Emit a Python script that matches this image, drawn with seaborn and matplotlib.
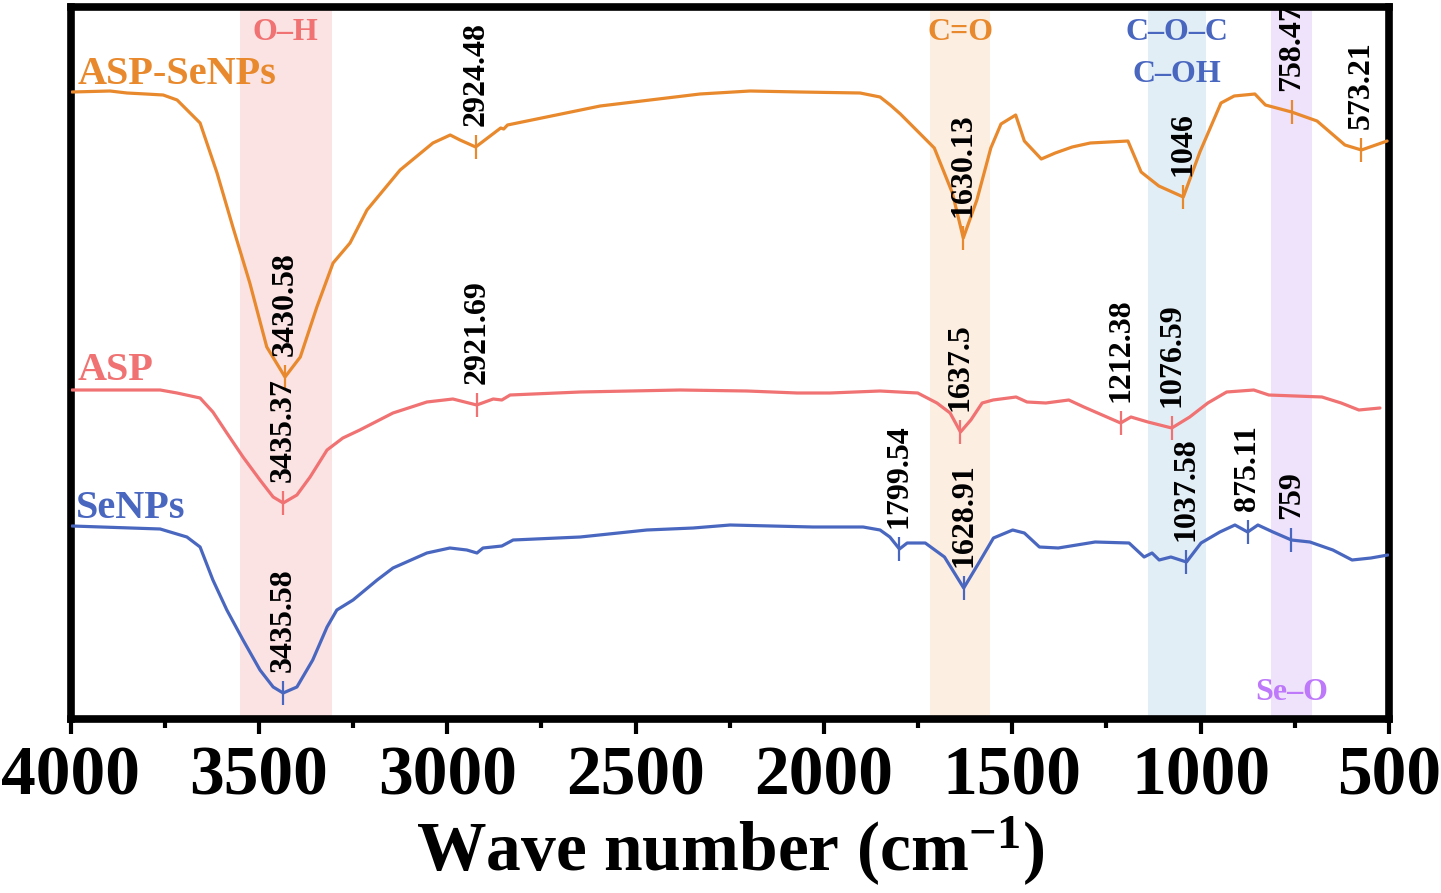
import numpy as np
import pandas as pd
import seaborn as sns
import matplotlib.pyplot as plt

sns.set_theme(style="ticks")
plt.rcParams['font.family'] = ['Liberation Serif', 'DejaVu Serif']
plt.rcParams['font.weight'] = 'bold'
plt.rcParams['text.color'] = 'black'
plt.rcParams['axes.labelcolor'] = 'black'
plt.rcParams['xtick.color'] = 'black'
plt.rcParams['mathtext.fontset'] = 'custom'
plt.rcParams['mathtext.rm'] = 'Liberation Serif:bold'
plt.rcParams['mathtext.it'] = 'Liberation Serif:bold'

# spectra (wavenumber, offset transmittance)
asp_senps_wn = [3996, 3895, 3850, 3800, 3754, 3717, 3656, 3611, 3569, 3524, 3479, 3430.58, 3390, 3346,
                3303, 3258, 3213, 3125, 3038, 2992, 2966, 2924.48, 2858, 2850, 2840, 2594, 2329, 2196,
                2063, 1904, 1851, 1824, 1797, 1707, 1659, 1630.13, 1594, 1557, 1530, 1491, 1468, 1423,
                1386, 1341, 1293, 1193, 1158, 1111, 1046, 1002, 946, 911, 856, 828, 758.47, 691, 617,
                573.21, 505]
asp_senps_t = [62.7, 62.8, 62.6, 62.5, 62.4, 61.9, 59.6, 54.6, 49.2, 43.6, 37.2, 34.2, 36.2, 41.2,
               45.6, 47.6, 50.9, 54.9, 57.6, 58.4, 57.9, 57.2, 59.1, 59.0, 59.4, 61.3, 62.5, 62.8,
               62.7, 62.6, 62.2, 61.4, 60.5, 57.1, 52.6, 48.1, 51.9, 57.1, 59.5, 60.4, 57.8, 56.0,
               56.6, 57.2, 57.6, 57.8, 54.7, 53.3, 52.2, 56.7, 61.6, 62.3, 62.5, 61.4, 60.7, 59.8, 57.4,
               56.9, 57.8]

asp_wn = [3996, 3842, 3762, 3717, 3656, 3622, 3585, 3542, 3497, 3462, 3435.37, 3399, 3364, 3319,
          3277, 3232, 3144, 3054, 2985, 2921.69, 2878, 2855, 2833, 2647, 2382, 2204, 2071, 1984,
          1851, 1751, 1700, 1665, 1637.5, 1610, 1580, 1551, 1490, 1461, 1411, 1350, 1310, 1249,
          1212.38, 1185, 1140, 1076.59, 1029, 981, 931, 859, 819, 678, 627, 580, 524]
asp_t = [32.9, 32.9, 32.9, 32.6, 32.1, 30.7, 28.6, 26.2, 23.9, 22.2, 21.6, 22.4, 24.2, 26.9,
         28.1, 28.9, 30.6, 31.7, 32.0, 31.4, 32.0, 31.9, 32.4, 32.7, 32.9, 32.8, 32.6, 32.6,
         32.8, 32.6, 31.6, 30.6, 28.7, 29.9, 31.6, 31.9, 32.2, 31.7, 31.6, 31.9, 31.2, 30.2,
         29.6, 30.2, 29.7, 29.1, 30.2, 31.6, 32.7, 32.9, 32.4, 32.2, 31.6, 30.9, 31.1]

senps_wn = [3996, 3762, 3691, 3656, 3622, 3585, 3542, 3497, 3462, 3435.58, 3399, 3357, 3319, 3293,
            3250, 3186, 3144, 3054, 2993, 2948, 2921, 2905, 2855, 2825, 2647, 2470, 2347, 2249,
            2029, 1896, 1851, 1825, 1799.54, 1779, 1731, 1680, 1628.91, 1589, 1550, 1499, 1468,
            1428, 1378, 1280, 1190, 1150, 1129, 1110, 1079, 1037.58, 999, 949, 909, 875.11, 848,
            808, 759, 710, 649, 598, 548, 503]
senps_t = [19.3, 19.0, 18.2, 17.2, 13.9, 10.9, 7.9, 4.9, 3.2, 2.6, 3.2, 5.9, 9.2, 10.9,
           11.9, 13.9, 15.1, 16.6, 17.1, 16.9, 16.6, 17.1, 17.3, 17.9, 18.2, 18.9, 19.1, 19.4,
           19.2, 19.2, 18.9, 18.2, 17.0, 17.6, 17.6, 16.2, 13.1, 15.6, 18.1, 18.9, 18.6,
           17.2, 17.1, 17.7, 17.6, 16.2, 16.6, 15.9, 16.2, 15.7, 17.6, 18.7, 19.4, 18.7, 19.4,
           18.7, 17.9, 17.7, 16.9, 15.9, 16.1, 16.4]

series_names = ["ASP-SeNPs", "ASP", "SeNPs"]
series_colors = ["#E8892D", "#F07272", "#4A67C0"]
series_wn = [asp_senps_wn, asp_wn, senps_wn]
series_t = [asp_senps_t, asp_t, senps_t]

peaks = {
    "ASP-SeNPs": [3430.58, 2924.48, 1630.13, 1046, 758.47, 573.21],
    "ASP": [3435.37, 2921.69, 1637.5, 1212.38, 1076.59],
    "SeNPs": [3435.58, 1799.54, 1628.91, 1037.58, 875.11, 759],
}

band_labels = ["O–H", "C=O", "C–O–C", "C–OH", "Se–O"]
band_ranges = [(3550, 3306), (1718, 1559), (1140, 987), (812, 705)]
band_colors = ["#FBE3E3", "#FDEEE2", "#E2EEF6", "#EFE2FB"]
band_text_colors = ["#F07272", "#E8892D", "#4A67C0", "#4A67C0", "#BE78FA"]

fig = plt.figure(figsize=(14.41, 8.93), dpi=100)
ax = fig.add_axes([70.5 / 1441, 1 - 719 / 893, (1389 - 70.5) / 1441, (719 - 7) / 893])

for (hi, lo), c in zip(band_ranges, band_colors):
    ax.axvspan(lo, hi, color=c, lw=0, zorder=0)

for name, col, wn, t in zip(series_names, series_colors, series_wn, series_t):
    df = pd.DataFrame({"wn": wn, "t": t})
    sns.lineplot(data=df, x="wn", y="t", color=col, lw=2.3, estimator=None, ax=ax, zorder=3)
    xs = np.array(wn)[::-1]
    ys = np.array(t)[::-1]
    for p in peaks[name]:
        yp = np.interp(p, xs, ys)
        ax.plot(p, yp, marker='|', ms=17, mew=1.6, color=col, zorder=4)
        lab = f"{p:g}" if p != 1637.5 else "1637.5"
        ax.annotate(lab, xy=(p, yp), xytext=(0, 15), textcoords='offset points',
                    rotation=90, ha='center', va='bottom', fontsize=23,
                    fontweight='bold', color='black', zorder=5)

# sample names
ax.text(3980, 64.5, "ASP-SeNPs", color=series_colors[0], fontsize=29, fontweight='bold', va='center')
ax.text(3980, 34.9, "ASP", color=series_colors[1], fontsize=29, fontweight='bold', va='center')
ax.text(3985, 21.1, "SeNPs", color=series_colors[2], fontsize=29, fontweight='bold', va='center')

# band names
band_pos = [(3430, 68.6), (1636, 68.6), (1063, 68.6), (1063, 64.5), (757, 2.6)]
for lab, (bx, by), c in zip(band_labels, band_pos, band_text_colors):
    ax.text(bx, by, lab, color=c, fontsize=23, ha='center', va='center')

ax.set_xlim(4000, 500)
ax.set_ylim(0, 71.2)
ax.set_xticks(np.arange(4000, 499, -500))
ax.set_xticks(np.arange(3750, 500, -500), minor=True)
ax.set_yticks([])
ax.set_ylabel("")
ax.set_xlabel(r"Wave number (cm$^{-1}$)", fontsize=50, fontweight='bold', labelpad=4)
ax.tick_params(axis='x', which='major', direction='out', length=11, width=3, labelsize=50, pad=8)
ax.tick_params(axis='x', which='minor', direction='out', length=6.5, width=3)
for s in ax.spines.values():
    s.set_linewidth(5.5)
    s.set_color('black')
    s.set_visible(True)

fig.savefig("out.png", dpi=100)
